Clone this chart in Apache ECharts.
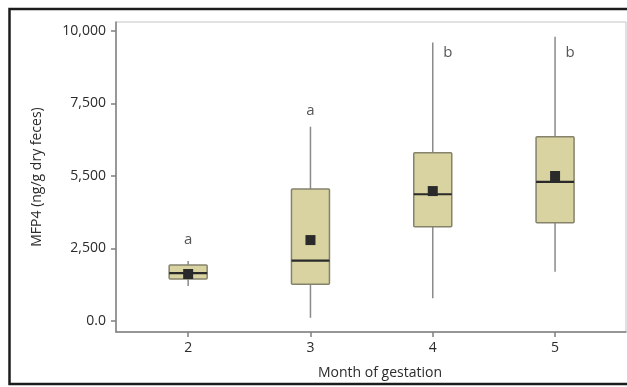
<!DOCTYPE html>
<html>
<head>
<meta charset="utf-8">
<script src="https://cdn.jsdelivr.net/npm/echarts@6/dist/echarts.min.js"></script>
<style>
html,body{margin:0;padding:0;background:#fff;}
#c{width:627px;height:387px;}
</style>
</head>
<body>
<div id="c"></div>
<script>
// Data
var months = [2, 3, 4, 5];
var whiskerLow = [1210, 110, 780, 1700];
var q1 = [1450, 1270, 3250, 3390];
var median = [1650, 2080, 4370, 4800];
var q3 = [1930, 4550, 5800, 6350];
var whiskerHigh = [2070, 6700, 9600, 9800];
var means = [1620, 2790, 4480, 5000];
var letters = ['a', 'a', 'b', 'b'];
var letterY = [2790, 7240, 9240, 9240];
var yTickValues = [0, 2500, 5000, 7500, 10000];
var yTickLabels = ['0.0', '2,500', '5,500', '7,500', '10,000'];

var FONT = '"Open Sans", "Noto Sans", sans-serif';
var TXT = '#2b2b2b';

var boxData = months.map(function (m, i) {
  return [m, whiskerLow[i], q1[i], median[i], q3[i], whiskerHigh[i], means[i]];
});
var letterData = months.map(function (m, i) {
  return {
    value: [m, letterY[i]],
    label: { offset: [i >= 2 ? 15 : 0, 0] }
  };
});

function renderBox(params, api) {
  var x = api.value(0);
  var pLow = api.coord([x, api.value(1)]);
  var pQ1 = api.coord([x, api.value(2)]);
  var pMed = api.coord([x, api.value(3)]);
  var pQ3 = api.coord([x, api.value(4)]);
  var pHigh = api.coord([x, api.value(5)]);
  var pMean = api.coord([x, api.value(6)]);
  var half = 19;
  var cx = pMed[0];
  var wStyle = { stroke: '#8a8a8a', lineWidth: 1.5 };
  return {
    type: 'group',
    children: [
      { type: 'line', shape: { x1: cx, y1: pHigh[1], x2: cx, y2: pQ3[1] }, style: wStyle },
      { type: 'line', shape: { x1: cx, y1: pQ1[1], x2: cx, y2: pLow[1] }, style: wStyle },
      { type: 'rect', shape: { x: cx - half, y: pQ3[1], width: half * 2, height: pQ1[1] - pQ3[1], r: 1 },
        style: { fill: '#d8d3a1', stroke: '#85826c', lineWidth: 1.5 } },
      { type: 'line', shape: { x1: cx - half, y1: pMed[1], x2: cx + half, y2: pMed[1] },
        style: { stroke: '#2a2a2a', lineWidth: 2.2 } },
      { type: 'rect', shape: { x: cx - 5, y: pMean[1] - 5, width: 10, height: 10 },
        style: { fill: '#2a2a2a' } }
    ]
  };
}

var chart = echarts.init(document.getElementById('c'), null, { renderer: 'canvas' });
chart.setOption({
  backgroundColor: '#ffffff',
  animation: false,
  grid: {
    left: 116, right: 1, top: 22, bottom: 55,
    show: true, borderColor: '#c4c4c4', borderWidth: 1
  },
  graphic: [{
    type: 'rect', silent: true,
    shape: { x: 9.5, y: 9, width: 640, height: 375 },
    style: { fill: 'none', stroke: '#1c1c1c', lineWidth: 2.5 },
    z: 100
  }],
  xAxis: {
    type: 'value', min: 1.41, max: 5.58,
    name: 'Month of gestation', nameLocation: 'middle', nameGap: 34,
    nameTextStyle: { fontFamily: FONT, fontSize: 14, color: TXT, padding: [0, 0, 0, 18] },
    splitLine: { show: false },
    axisLine: { onZero: false, lineStyle: { color: '#7f7f7f', width: 1.5 } },
    axisTick: { show: true, length: 5, customValues: months, lineStyle: { color: '#7f7f7f', width: 1.5 } },
    axisLabel: { customValues: months, fontFamily: FONT, fontSize: 14, color: TXT, margin: 9,
      formatter: function (v) { return String(Math.round(v)); } }
  },
  yAxis: {
    type: 'value', min: -380, max: 10310,
    name: 'MFP4 (ng/g dry feces)', nameLocation: 'middle', nameGap: 72, nameRotate: 90,
    nameTextStyle: { fontFamily: FONT, fontSize: 14, color: TXT },
    splitLine: { show: false },
    axisLine: { show: true, onZero: false, lineStyle: { color: '#7f7f7f', width: 1.5 } },
    axisTick: { show: true, length: 5, customValues: yTickValues, lineStyle: { color: '#7f7f7f', width: 1.5 } },
    axisLabel: { customValues: yTickValues, fontFamily: FONT, fontSize: 14, color: TXT, margin: 10,
      formatter: function (v) { return yTickLabels[yTickValues.indexOf(v)]; } }
  },
  series: [{
    type: 'custom',
    renderItem: renderBox,
    encode: { x: 0, y: [1, 2, 3, 4, 5, 6] },
    data: boxData,
    z: 3
  }, {
    type: 'scatter',
    symbolSize: 0,
    data: letterData,
    label: {
      show: true, position: 'inside',
      fontFamily: FONT, fontSize: 15, color: TXT,
      formatter: function (p) { return letters[p.dataIndex]; }
    },
    z: 4
  }]
});
</script>
</body>
</html>
